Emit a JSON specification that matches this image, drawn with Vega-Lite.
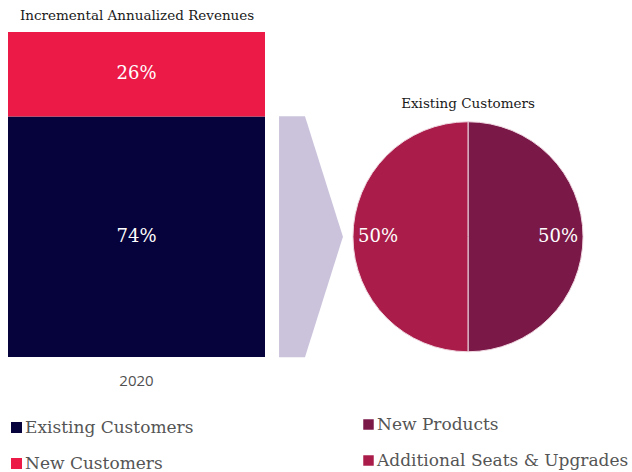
{
  "$schema": "https://vega.github.io/schema/vega-lite/v6.json",
  "background": "white",
  "padding": {"left": 8, "top": 8, "right": 0, "bottom": 0},
  "config": {"view": {"stroke": null}, "font": "DejaVu Serif"},
  "datasets": {
    "bar": [
      {"year": "2020", "segment": "Existing Customers", "share": 74, "label": "74%"},
      {"year": "2020", "segment": "New Customers", "share": 26, "label": "26%"}
    ],
    "pie": [
      {"segment": "New Products", "share": 50, "label": "50%"},
      {"segment": "Additional Seats & Upgrades", "share": 50, "label": "50%"}
    ]
  },
  "bounds": "flush",
  "spacing": 14,
  "resolve": {"scale": {"color": "independent"}, "legend": {"color": "independent"}},
  "hconcat": [
    {
      "width": 257,
      "height": 325,
      "data": {"name": "bar"},
      "title": {"text": "Incremental Annualized Revenues", "anchor": "start", "frame": "group", "dx": 12, "fontSize": 13.5, "font": "DejaVu Serif", "fontWeight": "normal", "color": "#1a1a1a", "offset": 10},
      "encoding": {
        "x": {"field": "year", "type": "nominal", "title": null, "scale": {"paddingInner": 0, "paddingOuter": 0}, "axis": {"labelAngle": 0, "domain": false, "ticks": false, "labelPadding": 16, "labelFont": "Open Sans", "labelFontSize": 15, "labelColor": "#505050"}},
        "order": {"field": "segment", "sort": "ascending"}
      },
      "layer": [
        {
          "mark": {"type": "bar"},
          "encoding": {
            "y": {"field": "share", "type": "quantitative", "stack": "zero", "scale": {"domain": [0, 100]}, "axis": null},
            "color": {"field": "segment", "type": "nominal", "scale": {"domain": ["Existing Customers", "New Customers"], "range": ["#06023B", "#EC1A47"]},
              "legend": {"title": null, "orient": "none", "legendX": 0, "legendY": 387, "symbolType": "square", "symbolSize": 121, "labelFont": "DejaVu Serif", "labelFontSize": 17, "labelColor": "#555555", "rowPadding": 18, "labelLimit": 400, "symbolStrokeWidth": 0, "symbolOpacity": 1, "padding": 0, "labelOffset": 0}}
          }
        },
        {
          "mark": {"type": "text", "color": "white", "fontSize": 18, "font": "DejaVu Serif"},
          "encoding": {
            "y": {"field": "share", "type": "quantitative", "stack": "zero", "bandPosition": 0.5},
            "detail": {"field": "segment"},
            "text": {"field": "label"}
          }
        }
      ]
    },
    {
      "width": 64,
      "height": 325,
      "data": {"values": [{"item": "arrow"}]},
      "mark": {"type": "point", "shape": "M-0.265,-1L-0.05,-1L0.265,0L-0.05,1L-0.265,1Z", "size": 58081, "filled": true, "color": "#CBC3DC", "opacity": 1, "strokeWidth": 0},
      "encoding": {"y": {"datum": 37, "type": "quantitative", "scale": {"domain": [0, 100]}, "axis": null}}
    },
    {
      "width": 222,
      "height": 325,
      "data": {"name": "pie"},
      "title": {"text": "Existing Customers", "anchor": "middle", "frame": "group", "fontSize": 13.5, "font": "DejaVu Serif", "fontWeight": "normal", "color": "#1a1a1a", "offset": -78},
      "encoding": {
        "theta": {"field": "share", "type": "quantitative", "stack": true},
        "order": {"field": "segment", "sort": "descending"},
        "y": {"datum": 37, "type": "quantitative", "scale": {"domain": [0, 100]}, "axis": null}
      },
      "layer": [
        {
          "mark": {"type": "arc", "outerRadius": 115, "stroke": "#efd7e0", "strokeWidth": 1},
          "encoding": {
            "color": {"field": "segment", "type": "nominal", "scale": {"domain": ["New Products", "Additional Seats & Upgrades"], "range": ["#7A1848", "#AA1D4A"]},
              "legend": {"title": null, "orient": "none", "legendX": 3, "legendY": 384, "symbolType": "square", "symbolSize": 110, "labelFont": "DejaVu Serif", "labelFontSize": 17, "labelColor": "#555555", "rowPadding": 18, "labelLimit": 400, "symbolStrokeWidth": 0, "symbolOpacity": 1, "padding": 0, "labelOffset": 0}}
          }
        },
        {
          "mark": {"type": "text", "radius": 90, "color": "white", "fontSize": 18, "font": "DejaVu Serif"},
          "encoding": {"text": {"field": "label"}, "detail": {"field": "segment"}}
        }
      ]
    }
  ]
}
